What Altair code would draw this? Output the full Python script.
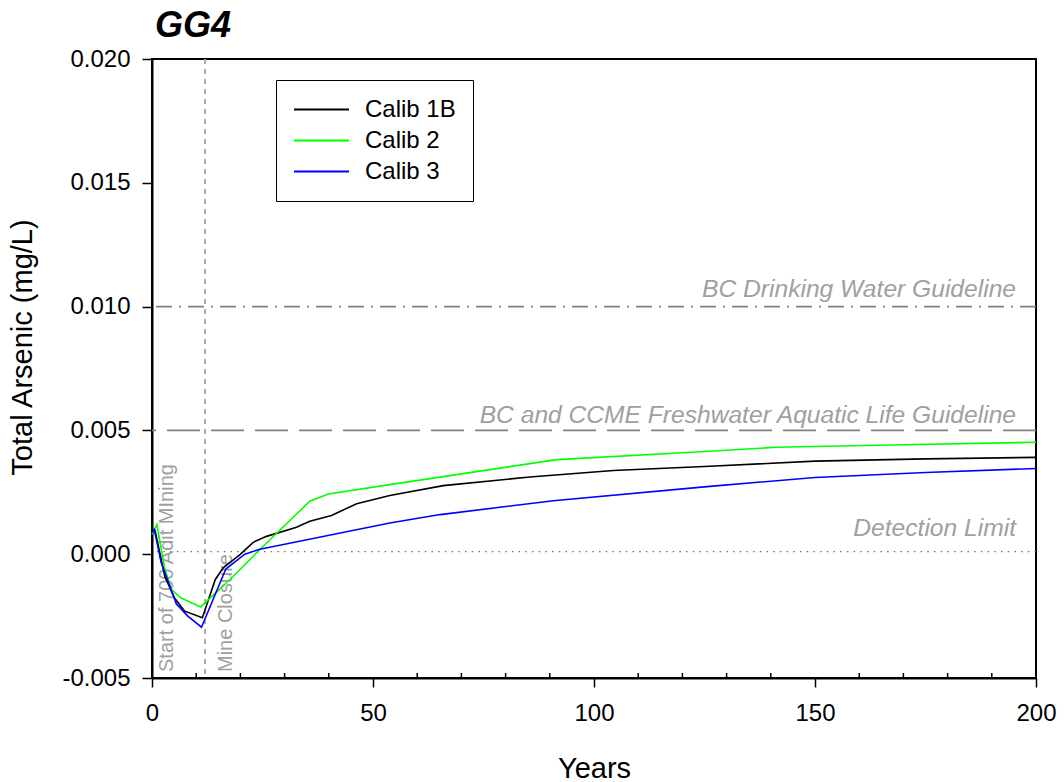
import altair as alt
import pandas as pd

FONT = "Liberation Sans"

# ---- data ----
chart_title = "GG4"
series_names = ["Calib 1B", "Calib 2", "Calib 3"]
series_colors = ["#000000", "#00ff00", "#0000ff"]

calib1b_years = [0, 0.7, 2.9, 5.1, 7.4, 11.4, 14.3, 16.1, 19.9, 22.9, 25.9, 32.7, 35.7, 40.6,
                 46.3, 53.8, 65.9, 85.5, 104.4, 126.2, 150, 175, 200]
calib1b_vals = [0.0008, 0.00095, -0.0009, -0.00177, -0.0023, -0.00257, -0.00103, -0.00055,
                -0.00002, 0.00048, 0.00072, 0.00109, 0.00133, 0.00156, 0.00204, 0.00237,
                0.00277, 0.00312, 0.00338, 0.00355, 0.00376, 0.00385, 0.00391]

calib2_years = [0, 1.1, 2.9, 4.4, 6.6, 11.0, 18.0, 24.4, 35.7, 39.9, 53.8, 91.6, 126.2, 141.3,
                170, 200]
calib2_vals = [0.0008, 0.0012, -0.0006, -0.00143, -0.00177, -0.00213, -0.00096, 0.00019,
               0.00214, 0.00243, 0.00281, 0.00382, 0.00416, 0.00432, 0.00442, 0.00452]

calib3_years = [0, 0.5, 2.1, 5.5, 8.1, 11.2, 16.7, 21.0, 24.4, 53.8, 65.2, 90.8, 126.2, 150,
                175, 200]
calib3_vals = [0.00088, 0.001, -0.00035, -0.002, -0.0025, -0.00295, -0.0006, 0.0, 0.0002,
               0.00126, 0.0016, 0.00216, 0.00274, 0.0031, 0.0033, 0.00346]

x_major_ticks = [0, 50, 100, 150, 200]
x_minor_ticks = [10, 20, 30, 40, 60, 70, 80, 90, 110, 120, 130, 140, 160, 170, 180, 190]
y_ticks = [-0.005, 0.0, 0.005, 0.010, 0.015, 0.020]

drinking_guideline = 0.010
aquatic_guideline = 0.005
detection_limit = 0.0001
mine_closure_year = 12

annot_years = [3.3, 16.8]
annot_texts = ["Start of 700 Adit MIning", "Mine Closure"]

# ---- tables ----
rows = []
for name, xs, ys in [("Calib 1B", calib1b_years, calib1b_vals),
                     ("Calib 2", calib2_years, calib2_vals),
                     ("Calib 3", calib3_years, calib3_vals)]:
    for i, (x, y) in enumerate(zip(xs, ys)):
        rows.append({"series": name, "year": x, "value": y, "order": i})
df = pd.DataFrame(rows)

W, H = 884, 619
xscale = alt.Scale(domain=[0, 200], nice=False, zero=False)
yscale = alt.Scale(domain=[-0.005, 0.020], nice=False, zero=False)

lines = alt.Chart(df).mark_line(strokeWidth=1.6).encode(
    x=alt.X("year:Q", scale=xscale,
            axis=alt.Axis(values=x_major_ticks, format="d", title="Years",
                          tickSize=9, labelPadding=14, labelFlush=False, titleY=90,
                          titleBaseline="middle", titleFontSize=29)),
    y=alt.Y("value:Q", scale=yscale,
            axis=alt.Axis(values=y_ticks, tickSize=10, labelPadding=12,
                          labelExpr="replace(format(datum.value, '.3f'), '\u2212', '-')",
                          title="Total Arsenic (mg/L)", titleX=-130, titleY=288,
                          titleAngle=270, titleAlign="center", titleBaseline="middle",
                          titleFontSize=29)),
    color=alt.Color("series:N",
                    scale=alt.Scale(domain=series_names, range=series_colors),
                    legend=alt.Legend(title=None, orient="none", legendX=124, legendY=21,
                                      symbolType="stroke", symbolSize=3025,
                                      symbolStrokeWidth=2, labelFontSize=24,
                                      labelFont=FONT, labelOffset=15, padding=17,
                                      clipHeight=25, rowPadding=6,
                                      strokeColor="black", fillColor="white")),
    order="order:Q",
)

minor = alt.Chart(pd.DataFrame({"t": x_minor_ticks})).mark_rule(
    color="black", strokeWidth=1.5).encode(
    x=alt.X("t:Q", scale=xscale), y=alt.value(H), y2=alt.value(H - 5))

vline = alt.Chart(pd.DataFrame({"x": [mine_closure_year]})).mark_rule(
    color="#aaaaaa", strokeWidth=2, strokeDash=[5, 5]).encode(x=alt.X("x:Q", scale=xscale))

drink = alt.Chart(pd.DataFrame({"y": [drinking_guideline]})).mark_rule(
    color="#808080", strokeWidth=1.8, strokeDash=[16, 7, 2, 7]).encode(
    y=alt.Y("y:Q", scale=yscale))
aqua = alt.Chart(pd.DataFrame({"y": [aquatic_guideline]})).mark_rule(
    color="#808080", strokeWidth=1.8, strokeDash=[33, 11]).encode(
    y=alt.Y("y:Q", scale=yscale))
detect = alt.Chart(pd.DataFrame({"y": [detection_limit]})).mark_rule(
    color="#707070", strokeWidth=1.2, strokeDash=[1.5, 5.2]).encode(
    y=alt.Y("y:Q", scale=yscale))

def guide_label(text, yv, dy):
    return alt.Chart(pd.DataFrame({"x": [200], "y": [yv], "t": [text]})).mark_text(
        align="right", baseline="alphabetic", fontStyle="italic", fontSize=24.6,
        font=FONT, color="#a0a0a0", dx=-20, dy=dy).encode(
        x=alt.X("x:Q", scale=xscale), y=alt.Y("y:Q", scale=yscale), text="t:N")

lab1 = guide_label("BC Drinking Water Guideline", drinking_guideline, -10)
lab2 = guide_label("BC and CCME Freshwater Aquatic Life Guideline", aquatic_guideline, -7)
lab3 = guide_label("Detection Limit", detection_limit, -16)

annot = alt.Chart(pd.DataFrame({"x": annot_years, "y": [-0.005, -0.005],
                                "t": annot_texts})).mark_text(
    angle=270, align="left", baseline="middle", fontSize=20, font=FONT,
    color="#a0a0a0", dx=6).encode(
    x=alt.X("x:Q", scale=xscale), y=alt.Y("y:Q", scale=yscale), text="t:N")

title_mark = alt.Chart(pd.DataFrame({"t": [chart_title]})).mark_text(
    align="left", baseline="alphabetic", fontSize=36, font=FONT, fontStyle="italic",
    fontWeight="bold", color="black").encode(
    x=alt.value(3), y=alt.value(-22), text="t:N")

chart = alt.layer(vline, drink, aqua, detect, lab1, lab2, lab3, annot, minor, title_mark,
                  lines).properties(
    width=W, height=H,
    autosize=alt.AutoSizeParams(type="none"),
    padding={"left": 152, "top": 59, "right": 28, "bottom": 104},
).configure_view(stroke="black", strokeWidth=2).configure_axis(
    grid=False, domainColor="black", domainWidth=2, tickColor="black", tickWidth=1.5,
    labelFont=FONT, labelFontSize=24, labelColor="black", titleFont=FONT,
    titleFontWeight="normal", titleColor="black",
).configure_legend(labelColor="black")

chart.save("out.html", embed_options={"renderer": "svg", "actions": False})
